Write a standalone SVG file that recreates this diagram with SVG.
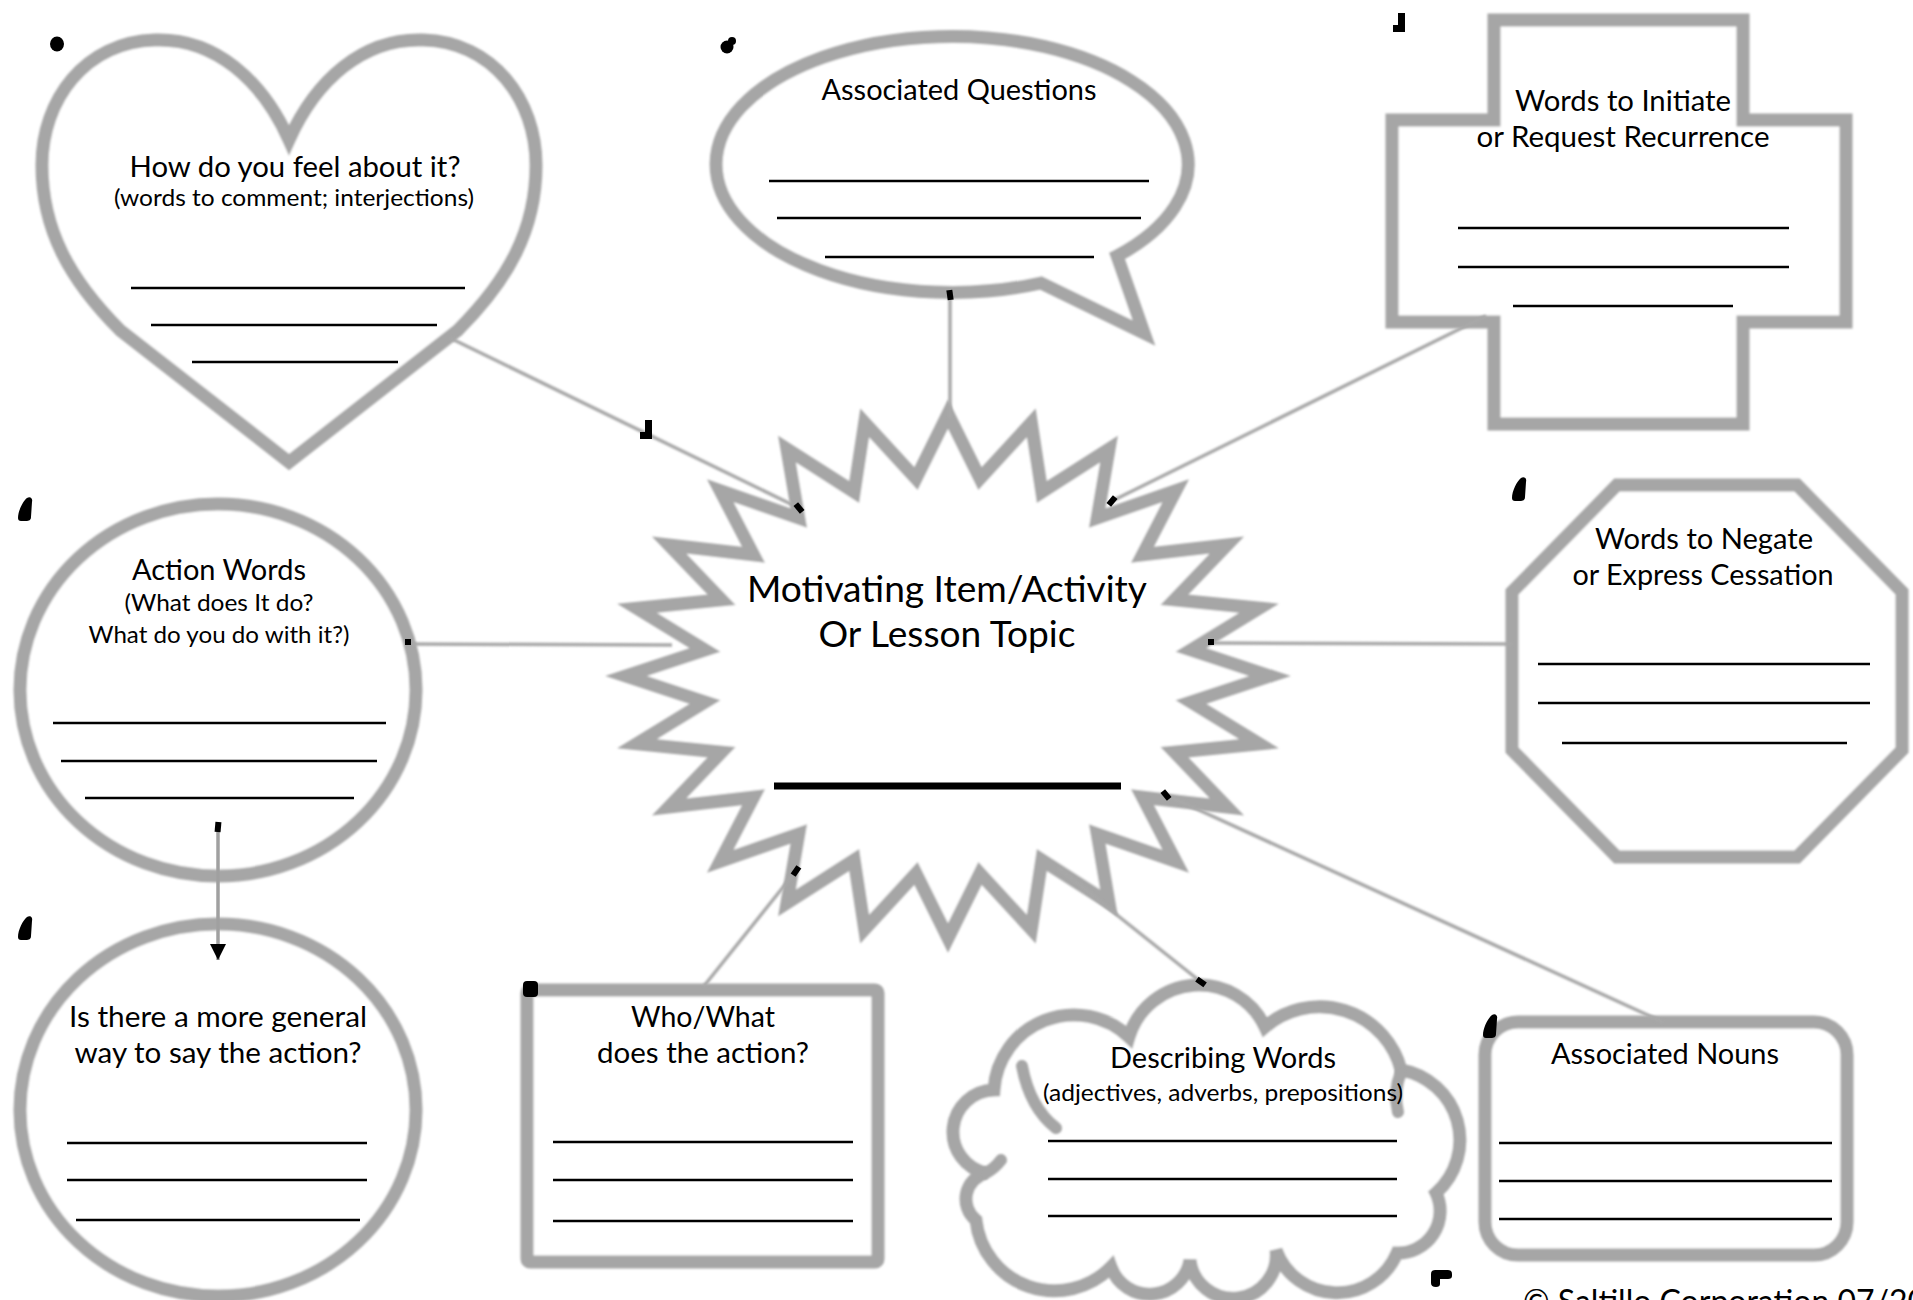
<svg xmlns="http://www.w3.org/2000/svg" xmlns:xlink="http://www.w3.org/1999/xlink" width="1913" height="1300" viewBox="0 0 1913 1300">
<defs>
<style>
.shape{fill:#fff;stroke:#a6a6a6;stroke-width:13;stroke-linejoin:miter;filter:url(#soft)}
.inner{fill:none;stroke:#a6a6a6;stroke-width:12;stroke-linecap:round;filter:url(#soft)}
.conn{fill:none;stroke:#a8a8a8;stroke-width:3.5;filter:url(#soft)}
.rule{stroke:#000;stroke-width:2.4}
.t{font-family:Lato,"Liberation Sans",sans-serif;font-size:28.5px;text-anchor:middle;fill:#000}
.s{font-size:23.4px}
.big{font-size:36px}
.mk{fill:#000}
</style>
<filter id="soft" filterUnits="userSpaceOnUse" x="0" y="0" width="1913" height="1300">
<feGaussianBlur stdDeviation="1.3"/>
</filter>
<marker id="arrow" viewBox="0 0 10 10" refX="10" refY="5" markerWidth="16" markerHeight="16" markerUnits="userSpaceOnUse" orient="auto">
<path d="M0,0 L10,5 L0,10 Z" fill="#000"/>
</marker>
<rect id="hd" x="-3" y="-5" width="6" height="10"/>
<path id="drop" d="M-7,9 C-7,2 -2,-8 2,-11 C5,-13 8,-11 7,-7 L6,8 C6,11 4,12 1,12 L-4,12 C-6,12 -7,11 -7,9 Z"/>
<path id="lmark" d="M0,0 H7 V19 H-5 V12 H0 Z"/>
</defs>
<rect width="1913" height="1300" fill="#fff"/>

<g id="heart">
<path class="shape" d="M289,140 C262,80 215,38 155,40 C85,42 42,100 42,165 C42,230 70,280 120,330 L289,462 L458,330 C508,280 536,230 536,165 C536,100 493,42 423,40 C363,38 316,80 289,140 Z"/>
<text class="t" x="295" y="177" textLength="331" lengthAdjust="spacingAndGlyphs">How do you feel about it?</text>
<text class="t s" x="294" y="206" textLength="360" lengthAdjust="spacingAndGlyphs">(words to comment; interjections)</text>
<line class="rule" x1="131" y1="288" x2="465" y2="288"/>
<line class="rule" x1="151" y1="325" x2="437" y2="325"/>
<line class="rule" x1="192" y1="362" x2="398" y2="362"/>
</g>

<g id="questions">
<path class="shape" d="M1041,283 A236,128 0 1 1 1117,256 L1144,333 Z"/>
<text class="t" x="959" y="100" textLength="275" lengthAdjust="spacingAndGlyphs">Associated Questions</text>
<line class="rule" x1="769" y1="181" x2="1149" y2="181"/>
<line class="rule" x1="777" y1="218" x2="1141" y2="218"/>
<line class="rule" x1="825" y1="257" x2="1094" y2="257"/>
</g>

<g id="initiate">
<path class="shape" d="M1494,20 H1743 V120 H1846 V322 H1743 V424 H1494 V322 H1392 V120 H1494 Z"/>
<text class="t" x="1623" y="111" textLength="216" lengthAdjust="spacingAndGlyphs">Words to Initiate</text>
<text class="t" x="1623" y="147" textLength="293" lengthAdjust="spacingAndGlyphs">or Request Recurrence</text>
<line class="rule" x1="1458" y1="228" x2="1789" y2="228"/>
<line class="rule" x1="1458" y1="267" x2="1789" y2="267"/>
<line class="rule" x1="1513" y1="306" x2="1733" y2="306"/>
</g>

<g id="topic">
<path class="shape" d="M948,414 L980,478.7 L1031.3,422.9 L1041.8,492.1 L1109,449.1 L1097.2,518.1 L1175.7,490.7 L1142.4,554.8 L1226.9,545 L1174.4,599.8 L1259,608.2 L1190.9,650 L1270,676 L1190.9,702 L1259,743.8 L1174.4,752.2 L1226.9,807 L1142.4,797.2 L1175.7,861.3 L1097.2,833.9 L1109,902.9 L1041.8,859.9 L1031.3,929.1 L980,873.3 L948,938 L916,873.3 L864.7,929.1 L854.2,859.9 L787,902.9 L798.8,833.9 L720.3,861.3 L753.6,797.2 L669.1,807 L721.6,752.2 L637,743.8 L705.1,702 L626,676 L705.1,650 L637,608.2 L721.6,599.8 L669.1,545 L753.6,554.8 L720.3,490.7 L798.8,518.1 L787,449.1 L854.2,492.1 L864.7,422.9 L916,478.7 Z"/>
<text class="t big" x="947" y="602" textLength="400" lengthAdjust="spacingAndGlyphs">Motivating Item/Activity</text>
<text class="t big" x="947" y="647" textLength="257" lengthAdjust="spacingAndGlyphs">Or Lesson Topic</text>
<line x1="774" y1="786" x2="1121" y2="786" stroke="#000" stroke-width="7"/>
</g>

<g id="negate">
<path class="shape" d="M1617,485 L1797,485 L1902,592 L1902,750 L1797,857 L1617,857 L1512,750 L1512,592 Z"/>
<text class="t" x="1704" y="549" textLength="218" lengthAdjust="spacingAndGlyphs">Words to Negate</text>
<text class="t" x="1703" y="585" textLength="261" lengthAdjust="spacingAndGlyphs">or Express Cessation</text>
<line class="rule" x1="1538" y1="664" x2="1870" y2="664"/>
<line class="rule" x1="1538" y1="703" x2="1870" y2="703"/>
<line class="rule" x1="1562" y1="743" x2="1847" y2="743"/>
</g>

<g id="action">
<ellipse class="shape" cx="218" cy="690" rx="198" ry="186"/>
<text class="t" x="219" y="580" textLength="174" lengthAdjust="spacingAndGlyphs">Action Words</text>
<text class="t s" x="219" y="611" textLength="189" lengthAdjust="spacingAndGlyphs">(What does It do?</text>
<text class="t s" x="219" y="643" textLength="261" lengthAdjust="spacingAndGlyphs">What do you do with it?)</text>
<line class="rule" x1="53" y1="723" x2="386" y2="723"/>
<line class="rule" x1="61" y1="761" x2="377" y2="761"/>
<line class="rule" x1="85" y1="798" x2="354" y2="798"/>
</g>

<g id="general">
<ellipse class="shape" cx="218" cy="1110" rx="198" ry="186"/>
<text class="t" x="218" y="1027" textLength="298" lengthAdjust="spacingAndGlyphs">Is there a more general</text>
<text class="t" x="218" y="1063" textLength="287" lengthAdjust="spacingAndGlyphs">way to say the action?</text>
<line class="rule" x1="67" y1="1143" x2="367" y2="1143"/>
<line class="rule" x1="67" y1="1180" x2="367" y2="1180"/>
<line class="rule" x1="76" y1="1220" x2="360" y2="1220"/>
</g>

<g id="who">
<rect class="shape" x="527" y="990" width="351" height="272" rx="3"/>
<text class="t" x="703" y="1027" textLength="144" lengthAdjust="spacingAndGlyphs">Who/What</text>
<text class="t" x="703" y="1063" textLength="212" lengthAdjust="spacingAndGlyphs">does the action?</text>
<line class="rule" x1="553" y1="1142" x2="853" y2="1142"/>
<line class="rule" x1="553" y1="1180" x2="853" y2="1180"/>
<line class="rule" x1="553" y1="1221" x2="853" y2="1221"/>
</g>

<g id="describing">
<path class="shape" d="M994,1090 A80,80 0 0 1 1129,1037 A73,73 0 0 1 1265,1027 A84,84 0 0 1 1401,1070 A71,71 0 0 1 1436,1193 A42,42 0 0 1 1397,1253 A65,65 0 0 1 1276,1250 A43,43 0 0 1 1190,1260 A41,41 0 0 1 1111,1267 A79,79 0 0 1 976,1220 A27,27 0 0 1 986,1173 A42,42 0 0 1 994,1090 Z"/>
<path class="inner" d="M1022,1066 Q1030,1108 1056,1128"/>
<path class="inner" d="M1401,1072 Q1393,1092 1398,1112"/>
<path class="inner" d="M986,1173 Q995,1168 1001,1160"/>
<text class="t" x="1223" y="1068" textLength="226" lengthAdjust="spacingAndGlyphs">Describing Words</text>
<text class="t s" x="1223" y="1101" textLength="360" lengthAdjust="spacingAndGlyphs">(adjectives, adverbs, prepositions)</text>
<line class="rule" x1="1048" y1="1141" x2="1397" y2="1141"/>
<line class="rule" x1="1048" y1="1179" x2="1397" y2="1179"/>
<line class="rule" x1="1048" y1="1216" x2="1397" y2="1216"/>
</g>

<g id="nouns">
<rect class="shape" x="1485" y="1022" width="362" height="233" rx="33"/>
<text class="t" x="1665" y="1064" textLength="228" lengthAdjust="spacingAndGlyphs">Associated Nouns</text>
<line class="rule" x1="1499" y1="1143" x2="1832" y2="1143"/>
<line class="rule" x1="1499" y1="1181" x2="1832" y2="1181"/>
<line class="rule" x1="1499" y1="1219" x2="1832" y2="1219"/>
</g>

<g id="connectors">
<line class="conn" x1="450" y1="338" x2="799" y2="508"/>
<line class="conn" x1="950" y1="297" x2="950" y2="418"/>
<line class="conn" x1="1486" y1="316" x2="1112" y2="501"/>
<line class="conn" x1="408" y1="644" x2="672" y2="645"/>
<line class="conn" x1="1211" y1="643" x2="1512" y2="644"/>
<line class="conn" x1="796" y1="871" x2="704" y2="986"/>
<line class="conn" x1="1058" y1="868" x2="1201" y2="982"/>
<line class="conn" x1="1166" y1="795" x2="1663" y2="1022"/>
<line x1="218" y1="827" x2="218" y2="960" stroke="#a0a0a0" stroke-width="3.5" marker-end="url(#arrow)"/>
</g>

<g id="handles" class="mk">
<use xlink:href="#hd" transform="translate(950,295) rotate(-8)"/>
<use xlink:href="#hd" transform="translate(799,508) rotate(-40)"/>
<use xlink:href="#hd" transform="translate(1112,501) rotate(40)"/>
<use xlink:href="#hd" transform="translate(1166,795) rotate(-40)"/>
<use xlink:href="#hd" transform="translate(796,871) rotate(35)"/>
<use xlink:href="#hd" transform="translate(1201,982) rotate(-55)"/>
<use xlink:href="#hd" transform="translate(218,827) rotate(5)"/>
<rect x="405" y="639" width="6" height="6"/>
<rect x="1208" y="639" width="6" height="6"/>
<ellipse cx="57" cy="44" rx="7" ry="7.5"/>
<circle cx="727" cy="47" r="6.5"/>
<circle cx="732" cy="41" r="4"/>
<use xlink:href="#lmark" transform="translate(1398,13)"/>
<use xlink:href="#lmark" transform="translate(645,420)"/>
<use xlink:href="#drop" transform="translate(25,509)"/>
<use xlink:href="#drop" transform="translate(1519,489)"/>
<use xlink:href="#drop" transform="translate(25,928)"/>
<use xlink:href="#drop" transform="translate(1490,1026)"/>
<rect x="523" y="981" width="15" height="16" rx="4"/>
<path d="M1431,1274 Q1431,1270 1435,1270 L1448,1270 Q1452,1270 1452,1274 L1452,1276 Q1452,1279 1448,1279 L1440,1279 L1440,1284 Q1440,1287 1436,1287 Q1431,1287 1431,1283 Z"/>
</g>

<text x="1523" y="1313" font-family="Lato, 'Liberation Sans', sans-serif" font-size="32" fill="#000">© Saltillo Corporation 07/20</text>
</svg>
